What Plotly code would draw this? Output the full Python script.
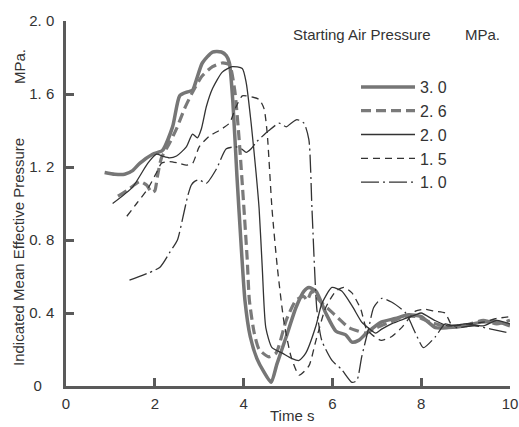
import plotly.graph_objects as go

# ---- data ----
t30 = [0.87, 1.1, 1.32, 1.5, 1.66, 1.95, 2.17, 2.4, 2.56, 2.72, 2.85, 2.94, 3.07, 3.3, 3.5, 3.61,
       3.68, 3.76, 3.85, 3.95, 4.03, 4.15, 4.30, 4.45, 4.62, 4.75, 4.96, 5.18, 5.36, 5.47, 5.63,
       5.85, 6.08, 6.30, 6.44, 6.59, 6.77, 7.1, 7.42, 7.71, 8.0, 8.32, 8.61, 8.99, 9.35, 9.73, 10.0]
p30 = [1.17, 1.16, 1.16, 1.18, 1.22, 1.27, 1.29, 1.42, 1.59, 1.61, 1.62, 1.68, 1.77, 1.83, 1.83, 1.81,
       1.77, 1.55, 1.15, 0.75, 0.47, 0.27, 0.15, 0.08, 0.02, 0.12, 0.27, 0.43, 0.52, 0.54, 0.52,
       0.40, 0.30, 0.28, 0.24, 0.25, 0.29, 0.35, 0.37, 0.39, 0.38, 0.32, 0.32, 0.33, 0.35, 0.35, 0.33]

t26 = [1.17, 1.37, 1.66, 1.82, 1.93, 2.0, 2.06, 2.15, 2.33, 2.49, 2.67, 2.85, 3.07, 3.30, 3.52, 3.68,
       3.80, 3.90, 4.0, 4.08, 4.13, 4.24, 4.35, 4.57, 4.73, 4.96, 5.18, 5.36, 5.43, 5.54, 5.70, 5.92,
       6.14, 6.37, 6.59, 6.75, 7.0, 7.3, 7.6, 7.9, 8.2, 8.5, 8.8, 9.1, 9.4, 9.7, 10.0]
p26 = [1.04, 1.07, 1.12, 1.10, 1.06, 1.07, 1.15, 1.25, 1.33, 1.41, 1.52, 1.61, 1.70, 1.75, 1.77, 1.76,
       1.62, 1.35, 1.0, 0.7, 0.47, 0.29, 0.20, 0.16, 0.18, 0.36, 0.47, 0.49, 0.47, 0.52, 0.47, 0.42,
       0.37, 0.32, 0.30, 0.29, 0.32, 0.35, 0.38, 0.38, 0.35, 0.33, 0.33, 0.34, 0.36, 0.34, 0.36]

t20 = [1.05, 1.5, 1.84, 2.04, 2.17, 2.33, 2.49, 2.71, 2.85, 2.96, 3.05, 3.16, 3.30, 3.52, 3.74, 3.97,
       4.06, 4.17, 4.28, 4.35, 4.42, 4.50, 4.64, 4.87, 5.09, 5.25, 5.40, 5.63, 5.76, 5.99, 6.21, 6.44,
       6.66, 6.75, 6.97, 7.1, 7.33, 7.65, 7.87, 8.0, 8.3, 8.6, 9.0, 9.4, 9.7, 10.0]
p20 = [1.0, 1.09, 1.22, 1.27, 1.26, 1.25, 1.26, 1.31, 1.38, 1.36, 1.41, 1.53, 1.63, 1.72, 1.75, 1.74,
       1.66, 1.44, 1.17, 0.97, 0.65, 0.32, 0.21, 0.18, 0.15, 0.14, 0.18, 0.33, 0.45, 0.54, 0.52, 0.44,
       0.35, 0.33, 0.29, 0.31, 0.34, 0.37, 0.39, 0.40, 0.36, 0.33, 0.34, 0.33, 0.36, 0.34]

t15 = [1.37, 1.59, 1.84, 2.04, 2.15, 2.33, 2.56, 2.71, 2.85, 3.0, 3.23, 3.45, 3.68, 3.83, 3.97, 4.06,
       4.35, 4.46, 4.53, 4.64, 4.76, 4.91, 5.07, 5.25, 5.47, 5.63, 5.85, 6.08, 6.26, 6.44, 6.64, 6.77,
       6.95, 7.1, 7.33, 7.56, 7.87, 8.09, 8.3, 8.54, 8.7, 9.0, 9.4, 9.7, 10.0]
p15 = [0.93, 1.0, 1.08, 1.17, 1.22, 1.23, 1.22, 1.21, 1.22, 1.31, 1.37, 1.40, 1.44, 1.53, 1.59, 1.59,
       1.57, 1.52, 1.39, 0.97, 0.65, 0.35, 0.16, 0.06, 0.11, 0.25, 0.43, 0.52, 0.54, 0.51, 0.42, 0.31,
       0.27, 0.25, 0.27, 0.32, 0.41, 0.42, 0.41, 0.40, 0.33, 0.34, 0.35, 0.37, 0.38]

t10 = [1.43, 2.11, 2.33, 2.51, 2.62, 2.74, 2.82, 2.89, 3.0, 3.16, 3.39, 3.61, 3.83, 3.95, 4.06, 4.17,
       4.30, 4.57, 4.80, 4.96, 5.07, 5.20, 5.36, 5.47, 5.54, 5.65, 5.76, 5.99, 6.21, 6.44, 6.55, 6.66,
       6.82, 6.93, 7.11, 7.33, 7.65, 7.87, 8.05, 8.32, 8.54, 8.8, 9.2, 9.6, 10.0]
p10 = [0.58, 0.65, 0.73, 0.80, 0.91, 1.04, 1.10, 1.12, 1.13, 1.11, 1.19, 1.30, 1.31, 1.30, 1.28, 1.30,
       1.34, 1.40, 1.44, 1.42, 1.44, 1.46, 1.44, 1.35, 0.97, 0.42, 0.25, 0.14, 0.09, 0.02, 0.03, 0.16,
       0.32, 0.43, 0.48, 0.46, 0.40, 0.29, 0.21, 0.27, 0.34, 0.32, 0.33, 0.31, 0.29]

names = ["3. 0", "2. 6", "2. 0", "1. 5", "1. 0"]
xticks = [0, 2, 4, 6, 8, 10]
xticktext = ["0", "2", "4", "6", "8", "10"]
yticks = [0, 0.4, 0.8, 1.2, 1.6, 2.0]
yticktext = ["0\u00a0\u00a0\u00a0", "0. 4", "0. 8", "1. 2", "1. 6", "2. 0"]

series = [(t30, p30), (t26, p26), (t20, p20), (t15, p15), (t10, p10)]
styles = [
    dict(color="#767676", width=3.5, dash="solid"),
    dict(color="#7a7a7a", width=3.2, dash="10px,5px"),
    dict(color="#333333", width=1.3, dash="solid"),
    dict(color="#333333", width=1.3, dash="7px,5px"),
    dict(color="#333333", width=1.3, dash="18px,4px,2px,4px"),
]

FONT = "Liberation Sans, Arial, sans-serif"
fig = go.Figure()
for (t, p), name, st in zip(series, names, styles):
    fig.add_trace(go.Scatter(x=t, y=p, mode="lines", name=name,
                             line=dict(shape="spline", smoothing=0.6, **st)))

axis_common = dict(showline=True, linecolor="#5a5a5a", linewidth=2.5, ticks="inside",
                   ticklen=8, tickwidth=2.5, tickcolor="#5a5a5a", showgrid=False,
                   zeroline=False, ticklabeloverflow="allow", automargin=False,
                   tickfont=dict(family=FONT, size=15, color="#333"))
fig.update_xaxes(range=[0, 10], tickvals=xticks, ticktext=xticktext,
                 ticklabelstandoff=2, **axis_common)
fig.update_yaxes(range=[0, 2.0], tickvals=yticks, ticktext=yticktext,
                 ticklabelstandoff=6, **axis_common)

W, H = 519, 427
L, R, T, B = 66, 9, 21, 41
pw, ph = W - L - R, H - T - B


def px(x):
    return (x - L) / pw


def py(y):
    return (H - B - y) / ph


ann = [
    dict(text="Starting Air Pressure", x=px(362), y=py(35), size=15),
    dict(text="MPa.", x=px(482), y=py(35), size=15),
    dict(text="Time s", x=px(292), y=py(415), size=15),
    dict(text="Indicated Mean Effective Pressure", x=px(19), y=py(252), size=15, angle=-90),
    dict(text="MPa.", x=px(19), y=py(67), size=15, angle=-90),
]
for a in ann:
    fig.add_annotation(text=a["text"], x=a["x"], y=a["y"], xref="paper", yref="paper",
                       showarrow=False, xanchor="center", yanchor="middle",
                       textangle=a.get("angle", 0),
                       font=dict(family=FONT, size=a["size"], color="#333"))

fig.update_layout(
    width=W, height=H,
    margin=dict(l=L, r=R, t=T, b=B),
    paper_bgcolor="white", plot_bgcolor="white",
    showlegend=True,
    legend=dict(x=px(356), y=py(70), xanchor="left", yanchor="top",
                bgcolor="rgba(0,0,0,0)", font=dict(family=FONT, size=16, color="#333"),
                tracegroupgap=0, itemwidth=54),
)

fig.write_html("out.html")
